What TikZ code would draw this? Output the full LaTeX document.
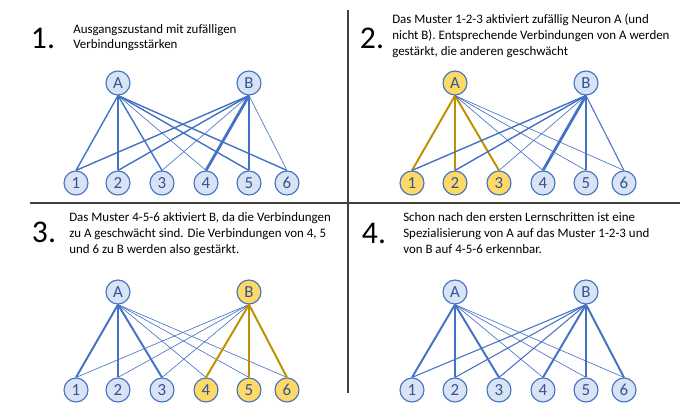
\documentclass[tikz,border=0pt]{standalone}
\usepackage{fontspec}
\setmainfont{Carlito}
\definecolor{nblue}{HTML}{4472C4}
\definecolor{nfill}{HTML}{DAE3F3}
\definecolor{nlabel}{HTML}{2F5597}
\definecolor{ngold}{HTML}{BF9000}
\definecolor{nyellow}{HTML}{FFD966}

\begin{document}
\begin{tikzpicture}[
    x=0.025cm, y=-0.025cm,
    neuron/.style={circle,draw=nblue,fill=nfill,line width=0.8pt,minimum size=0.6cm,inner sep=0pt,text=nlabel,font=\fontsize{12}{12}\selectfont},
    active/.style={neuron,fill=nyellow},
    stepno/.style={font=\fontsize{22.5}{22.5}\selectfont,inner sep=0pt},
    caption/.style={align=left,anchor=west,inner sep=0pt,font=\fontsize{9.2}{11.4}\selectfont},
    divider/.style={draw=black!75,line width=1.2pt},
    wthin/.style={draw=nblue,line width=0.45pt},
    wlight/.style={draw=nblue,line width=0.75pt},
    wmed/.style={draw=nblue,line width=1pt},
    wthick/.style={draw=nblue,line width=1.4pt},
    wheavy/.style={draw=nblue,line width=2pt},
    wgold/.style={draw=ngold,line width=1.4pt}
]
\useasboundingbox (0,0) rectangle (700,416);

% dividers
\coordinate (vtop) at (348,10);
\coordinate (vbot) at (348,393);
\coordinate (hleft) at (30,203);
\coordinate (hright) at (680,203);
\draw[divider] (vtop) -- (vbot);
\draw[divider] (hleft) -- (hright);

% headings
\node[stepno] (s1) at (43,38) {1.};
\node[caption,font=\fontsize{9.2}{10.6}\selectfont] (t1) at (73,38) {Ausgangszustand mit zufälligen\\Verbindungsstärken};
\node[stepno] (s2) at (372,38) {2.};
\node[caption] (t2) at (392,36) {Das Muster 1-2-3 aktiviert zufällig Neuron A (und\\nicht B). Entsprechende Verbindungen von A werden\\gestärkt, die anderen geschwächt};
\node[stepno] (s3) at (44,232) {3.};
\node[caption] (t3) at (69,234) {Das Muster 4-5-6 aktiviert B, da die Verbindungen\\zu A geschwächt sind. Die Verbindungen von 4, 5\\und 6 zu B werden also gestärkt.};
\node[stepno] (s4) at (374,233) {4.};
\node[caption] (t4) at (403,233) {Schon nach den ersten Lernschritten ist eine\\Spezialisierung von A auf das Muster 1-2-3 und\\von B auf 4-5-6 erkennbar.};

% panel 1
\node[neuron] (a1) at (118,83) {A};
\node[neuron] (b1) at (249,83) {B};
\foreach \i/\x in {1/76,2/118,3/162,4/206,5/249,6/287}
    \node[neuron] (x1-\i) at (\x,183) {\i};
\foreach \i/\w in {1/wmed,2/wmed,3/wmed,4/wthin,5/wmed,6/wmed}
    \draw[\w] (a1.south) -- (x1-\i.north);
\foreach \i/\w in {1/wmed,2/wmed,3/wthin,4/wheavy,5/wmed,6/wthin}
    \draw[\w] (b1.south) -- (x1-\i.north);

% panel 2
\node[active] (a2) at (455,83) {A};
\node[neuron] (b2) at (586,83) {B};
\foreach \i/\x in {1/412,2/455,3/499}
    \node[active] (x2-\i) at (\x,183) {\i};
\foreach \i/\x in {4/543,5/586,6/624}
    \node[neuron] (x2-\i) at (\x,183) {\i};
\foreach \i/\w in {1/wgold,2/wgold,3/wgold,4/wthin,5/wthin,6/wthin}
    \draw[\w] (a2.south) -- (x2-\i.north);
\foreach \i/\w in {1/wmed,2/wmed,3/wthin,4/wheavy,5/wmed,6/wlight}
    \draw[\w] (b2.south) -- (x2-\i.north);

% panel 3
\node[neuron] (a3) at (118,292) {A};
\node[active] (b3) at (249,292) {B};
\foreach \i/\x in {1/76,2/118,3/162}
    \node[neuron] (x3-\i) at (\x,390) {\i};
\foreach \i/\x in {4/206,5/249,6/287}
    \node[active] (x3-\i) at (\x,390) {\i};
\foreach \i/\w in {1/wthick,2/wthick,3/wthick,4/wthin,5/wthin,6/wthin}
    \draw[\w] (a3.south) -- (x3-\i.north);
\foreach \i/\w in {1/wthin,2/wthin,3/wthin,4/wgold,5/wgold,6/wgold}
    \draw[\w] (b3.south) -- (x3-\i.north);

% panel 4
\node[neuron] (a4) at (455,292) {A};
\node[neuron] (b4) at (586,292) {B};
\foreach \i/\x in {1/412,2/455,3/499,4/543,5/586,6/624}
    \node[neuron] (x4-\i) at (\x,390) {\i};
\foreach \i/\w in {1/wthick,2/wthick,3/wthick,4/wthin,5/wthin,6/wthin}
    \draw[\w] (a4.south) -- (x4-\i.north);
\foreach \i/\w in {1/wlight,2/wlight,3/wlight,4/wthick,5/wthick,6/wthick}
    \draw[\w] (b4.south) -- (x4-\i.north);
\end{tikzpicture}
\end{document}
